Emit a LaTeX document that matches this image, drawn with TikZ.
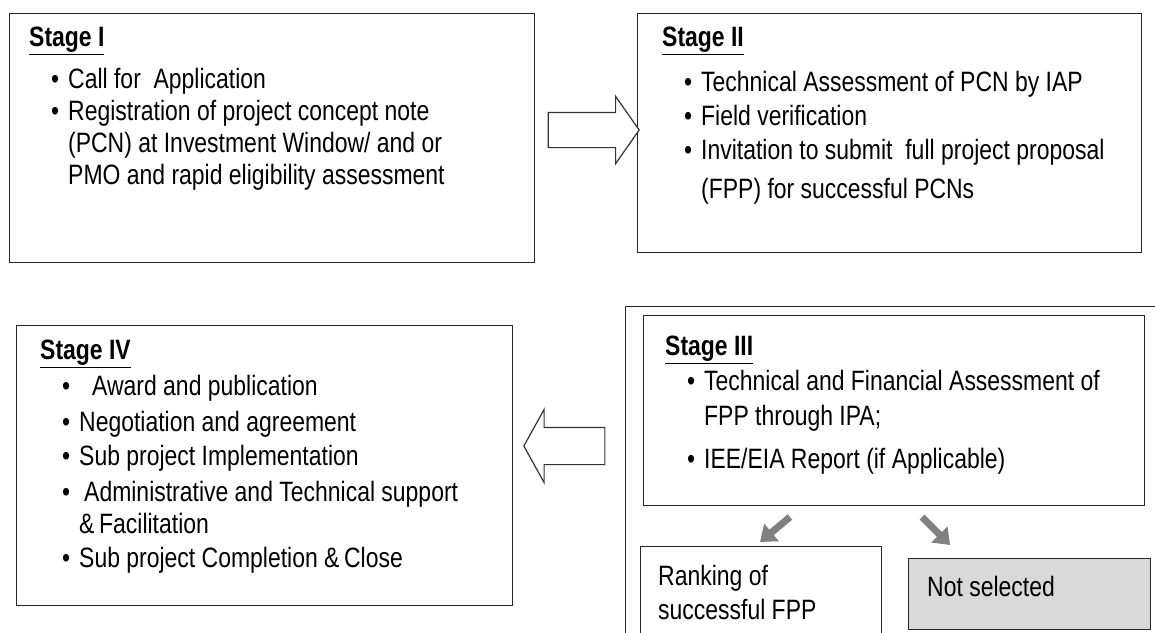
\documentclass[tikz,border=0pt]{standalone}
\usepackage{fontspec}
\setmainfont[FakeStretch=0.82]{Liberation Sans}
\usetikzlibrary{shapes.arrows,arrows.meta}

\newcommand{\stitle}[1]{\underline{\textbf{#1}}}
\newcommand{\bul}{\hspace*{22pt}\makebox[17pt][l]{\textbullet}}
\newcommand{\cont}{\hspace*{39pt}}

\tikzset{
  stagebox/.style={draw=black!85,line width=1.3pt,anchor=north west,inner sep=0pt},
  stagetxt/.style={anchor=north west,align=left,inner sep=0pt,font=\fontsize{28}{32}\selectfont},
  bigarrow/.style={single arrow,draw=black!80,line width=1.2pt,fill=white,inner xsep=0pt},
  greyarrow/.style={draw=black!50,line width=7pt,-{Triangle[length=15pt,width=22pt]}}
}

\begin{document}
\begin{tikzpicture}[x=1pt,y=-1pt]
  \useasboundingbox (0,0) rectangle (1155,632);
  % boxes
  \node[stagebox,minimum width=525pt,minimum height=249pt] (stageI) at (9,13) {};
  \node[stagebox,minimum width=504pt,minimum height=239pt] (stageII) at (637,13) {};
  \node[stagebox,minimum width=496pt,minimum height=280pt] (stageIV) at (16,325) {};
  \node[stagebox,minimum width=570pt,minimum height=360pt] (stageIIIout) at (625,306) {};
  \node[stagebox,minimum width=501pt,minimum height=190pt] (stageIII) at (643,315) {};
  \node[stagebox,minimum width=241pt,minimum height=100pt] (rank) at (640,546) {};
  \node[stagebox,fill=black!15,minimum width=242pt,minimum height=71pt] (notsel) at (908,558) {};
  % texts
  \node[stagetxt] (stageItxt) at (29,27) {\stitle{Stage I}\\[10pt]
    \bul Call for\ \ Application\\
    \bul Registration of project concept note\\
    \cont (PCN) at Investment Window/ and or\\
    \cont PMO and rapid eligibility assessment};
  \node[stagetxt] (stageIItxt) at (662,27) {\stitle{Stage II}\\[13pt]
    \bul Technical Assessment of PCN by IAP\\[2pt]
    \bul Field verification\\[2pt]
    \bul Invitation to submit\ \ full project proposal\\[7pt]
    \cont (FPP) for successful PCNs};
  \node[stagetxt] (stageIIItxt) at (665,336) {\stitle{Stage III}\\[3pt]
    \bul Technical and Financial Assessment of\\[3pt]
    \cont FPP through IPA;\\[11pt]
    \bul IEE/EIA Report (if Applicable)};
  \node[stagetxt] (stageIVtxt) at (40,340) {\stitle{Stage IV}\\[4pt]
    \bul\hspace*{13pt}Award and publication\\[4pt]
    \bul Negotiation and agreement\\[2pt]
    \bul Sub project Implementation\\[4pt]
    \bul\hspace*{5pt}Administrative and Technical support\\[0pt]
    \cont \&\,Facilitation\\[2pt]
    \bul Sub project Completion \&\,Close};
  \node[stagetxt] (ranktxt) at (658,565) {Ranking of\\[2pt] successful FPP};
  \node[stagetxt] (notseltxt) at (927,576) {Not selected};
  % block arrows
  \node[bigarrow,minimum height=91pt,inner ysep=17pt,
    single arrow head extend=16pt,single arrow tip angle=110] (toII) at (587.5,130) {};
  \node[bigarrow,minimum height=81pt,inner ysep=18pt,shape border rotate=180,
    single arrow head extend=18pt,single arrow tip angle=122] (toIV) at (569.5,446) {};
  % grey arrows
  \coordinate (leftout) at (790,517);
  \coordinate (rankin) at (760,542);
  \coordinate (rightout) at (922,517);
  \coordinate (notselin) at (950,545);
  \draw[greyarrow] (leftout) -- (rankin);
  \draw[greyarrow] (rightout) -- (notselin);
\end{tikzpicture}
\end{document}
